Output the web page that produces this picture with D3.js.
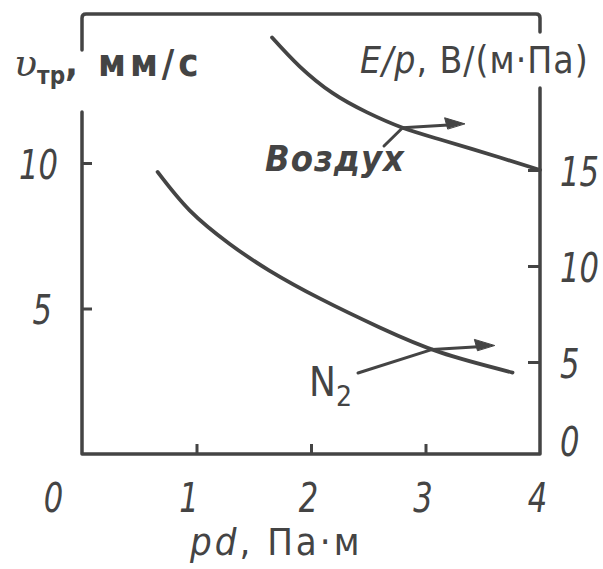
<!DOCTYPE html>
<html>
<head>
<meta charset="utf-8">
<script src="https://cdn.jsdelivr.net/npm/d3@7/dist/d3.min.js"></script>
<style>
  html, body { margin: 0; padding: 0; background: #fff; }
  svg { display: block; }
  text { font-family: "DejaVu Sans Condensed", "DejaVu Sans", sans-serif; fill: #444; }
</style>
</head>
<body>
<svg id="chart" width="603" height="569"></svg>
<script>
// Axis ticks
const pdTicks = [0, 1, 2, 3, 4];
const driftTicks = [5, 10];
const fieldTicks = [0, 5, 10, 15];

// E/p against pd for air
const airPd = [1.66, 1.9, 2.19, 2.49, 2.8, 3.15, 3.65, 4.0];
const airEp = [21.9, 20.4, 19.0, 18.0, 17.2, 16.55, 15.65, 15.0];

// E/p against pd for nitrogen
const n2Pd = [0.66, 0.94, 1.29, 1.64, 2.08, 2.6, 3.13, 3.76];
const n2Ep = [14.9, 12.9, 11.15, 9.75, 8.3, 6.8, 5.5, 4.45];

const ink = "#444";
const svg = d3.select("#chart");

const plotL = 82, plotR = 540, plotT = 14, plotB = 454;

const x = d3.scaleLinear().domain([0, 4]).range([plotL, plotR]);
const yDrift = d3.scaleLinear().domain([0, 10]).range([plotB, 163]);
const yField = d3.scaleLinear().domain([0, 15]).range([458, 170]);

// Frame: broken at the top of both vertical axes to leave room for the titles
const frame = svg.append("g").attr("fill", "none").attr("stroke", ink)
  .attr("stroke-width", 3.5).attr("stroke-linejoin", "round").attr("stroke-linecap", "round");
frame.append("path").attr("d", `M${plotL},50 L${plotL},${plotT + 4} Q${plotL},${plotT} ${plotL + 4},${plotT} L${plotR - 4},${plotT} Q${plotR},${plotT} ${plotR},${plotT + 4} L${plotR},32`);
frame.append("path").attr("d", `M${plotL},112 L${plotL},${plotB} L${plotR},${plotB} L${plotR},88`);

// Narrow, tall numerals: oblique condensed digits stretched vertically
function numerals(sel) {
  sel.attr("fill", ink).attr("font-size", 34).attr("font-style", "italic")
    .attr("transform", "scale(1,1.2)");
}

// Bottom axis: ticks point up into the plot
const xAxis = svg.append("g").attr("transform", `translate(0,${plotB})`)
  .call(d3.axisBottom(x).tickValues(pdTicks).tickSize(-10).tickPadding(24).tickFormat(d3.format("d")));
xAxis.select(".domain").remove();
xAxis.selectAll(".tick line").attr("stroke", ink).attr("stroke-width", 3)
  .attr("opacity", d => (d === 0 || d === 4) ? 0 : 1);
xAxis.selectAll(".tick text").call(numerals)
  .attr("dx", d => d === 0 ? -29 : (d === 1 ? -8 : -3))
  .attr("dy", "0.71em");

// Left axis (drift velocity)
const yAxisL = svg.append("g").attr("transform", `translate(${plotL},0)`)
  .call(d3.axisLeft(yDrift).tickValues(driftTicks).tickSize(-10).tickPadding(24).tickFormat(d3.format("d")));
yAxisL.select(".domain").remove();
yAxisL.selectAll(".tick line").attr("stroke", ink).attr("stroke-width", 3);
yAxisL.selectAll(".tick text").call(numerals)
  .attr("dx", d => d === 5 ? -6 : 0)
  .attr("dy", "0.37em");

// Right axis (reduced field)
const yAxisR = svg.append("g").attr("transform", `translate(${plotR},0)`)
  .call(d3.axisRight(yField).tickValues(fieldTicks).tickSize(-12).tickPadding(20).tickFormat(d3.format("d")));
yAxisR.select(".domain").remove();
yAxisR.selectAll(".tick line").attr("stroke", ink).attr("stroke-width", 3)
  .attr("opacity", d => d === 0 ? 0 : 1);
yAxisR.selectAll(".tick text").call(numerals)
  .attr("dy", d => d === 0 ? "-0.07em" : "0.37em");

// Curves
const line = d3.line().x(d => x(d[0])).y(d => yField(d[1])).curve(d3.curveNatural);
const airPts = airPd.map((p, i) => [p, airEp[i]]);
const n2Pts = n2Pd.map((p, i) => [p, n2Ep[i]]);
svg.append("path").datum(airPts).attr("d", line)
  .attr("fill", "none").attr("stroke", ink).attr("stroke-width", 3.8).attr("stroke-linecap", "round");
svg.append("path").datum(n2Pts).attr("d", line)
  .attr("fill", "none").attr("stroke", ink).attr("stroke-width", 3.8).attr("stroke-linecap", "round");

// Arrows pointing to the right-hand scale, with leaders to the curve labels
function arrow(px, py, leadX, leadY) {
  const g = svg.append("g").attr("stroke", ink).attr("fill", ink).attr("stroke-linecap", "round");
  const ex = px + 62, ey = py - 4;
  g.append("line").attr("x1", px).attr("y1", py).attr("x2", ex - 12).attr("y2", ey + 1).attr("stroke-width", 3);
  g.append("path").attr("d", `M${ex},${ey} L${ex - 20},${ey - 6} L${ex - 17},${ey + 5} Z`).attr("stroke-width", 1);
  g.append("line").attr("x1", leadX).attr("y1", leadY).attr("x2", px).attr("y2", py).attr("stroke-width", 3);
}
arrow(x(airPd[4]), yField(airEp[4]), 384, 146);
arrow(x(n2Pd[6]) - 8, yField(n2Ep[6]) - 3, 358, 373);

// Curve labels
svg.append("text").attr("x", 265).attr("y", 171).attr("font-size", 36)
  .attr("font-style", "italic").attr("font-weight", "bold").attr("letter-spacing", 1).text("Воздух");
const n2 = svg.append("text").attr("x", 309).attr("y", 396).attr("font-size", 40);
n2.append("tspan").text("N");
n2.append("tspan").attr("font-size", 28).attr("dy", 10).text("2");

// Axis titles
const tL = svg.append("text").attr("x", 14).attr("y", 76).attr("font-size", 38).attr("font-weight", "bold");
tL.append("tspan").attr("font-style", "italic").attr("font-family", "DejaVu Serif").attr("font-weight", "normal").attr("font-size", 38).text("υ");
tL.append("tspan").attr("font-size", 24).attr("dy", 8).text("тр");
tL.append("tspan").attr("dy", -8).attr("letter-spacing", 4).text(", мм/с");

const tR = svg.append("text").attr("x", 360).attr("y", 73).attr("font-size", 37).attr("letter-spacing", 1);
tR.append("tspan").attr("font-style", "italic").text("E/p");
tR.append("tspan").text(", В/(м·Па)");

const tX = svg.append("text").attr("x", 190).attr("y", 555).attr("font-size", 38).attr("letter-spacing", 3);
tX.append("tspan").attr("font-style", "italic").text("pd");
tX.append("tspan").text(", Па·м");
</script>
</body>
</html>
